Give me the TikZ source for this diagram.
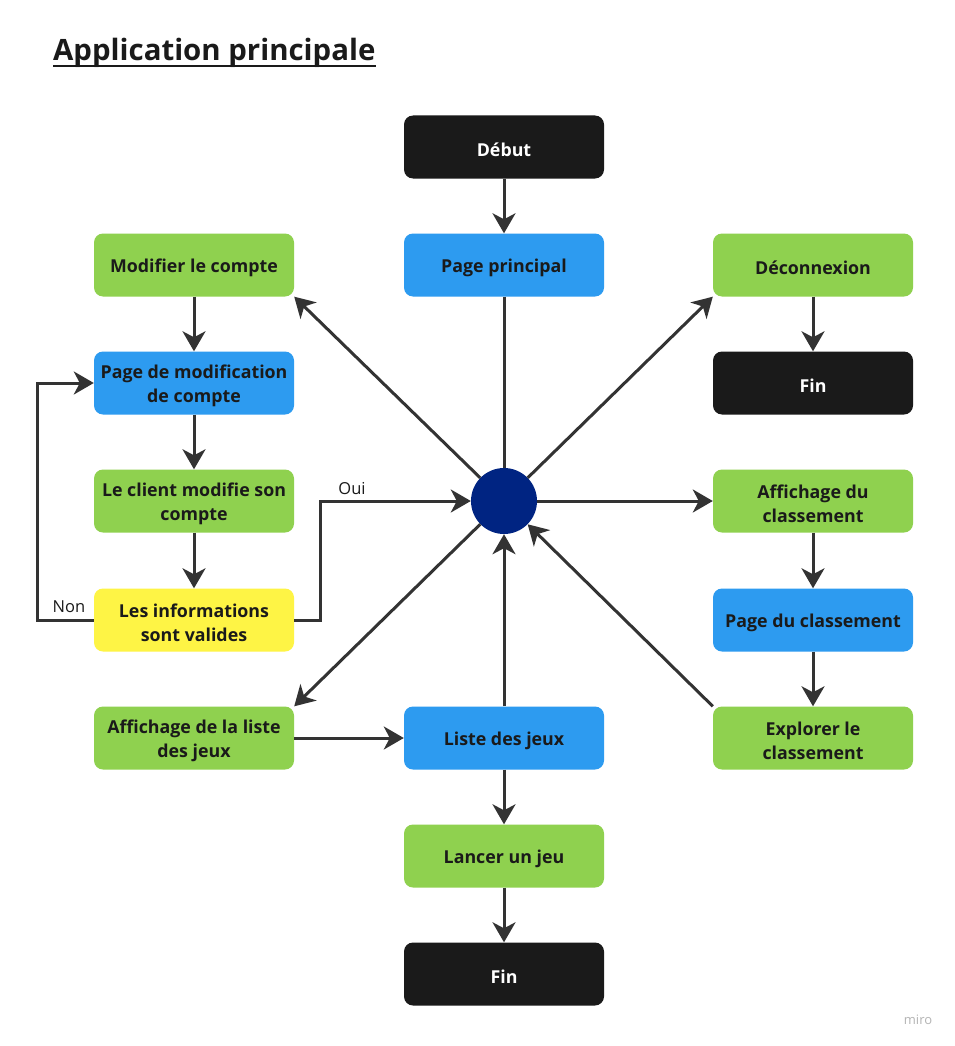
\documentclass[tikz,border=0pt]{standalone}
\usepackage{fontspec}
\setmainfont{Open Sans}
\usetikzlibrary{arrows.meta}
\definecolor{mgreen}{HTML}{8FD14F}
\definecolor{mblue}{HTML}{2D9BF0}
\definecolor{myellow}{HTML}{FEF445}
\definecolor{mblack}{HTML}{1A1A1A}
\definecolor{mnavy}{HTML}{002482}
\definecolor{mline}{HTML}{333333}
\definecolor{mtxt}{HTML}{1A1A1A}
\definecolor{mwater}{HTML}{B4B4B4}
\begin{document}
\begin{tikzpicture}[x=1pt,y=-1pt,
  box/.style={rectangle, rounded corners=9pt, minimum width=200pt, minimum height=63pt, inner sep=0pt},
  btxt/.style={align=center, inner sep=0pt, yshift=-2.5pt, text=mtxt, font=\bfseries\fontsize{17.8}{24}\selectfont},
  gbox/.style={box, fill=mgreen, label={[btxt]center:#1}},
  bbox/.style={box, fill=mblue, label={[btxt]center:#1}},
  ybox/.style={box, fill=myellow, label={[btxt]center:#1}},
  kbox/.style={box, fill=mblack, label={[btxt, text=white]center:#1}},
  conn/.style={draw=mline, line width=3pt, -{Stealth[length=20pt,width=23pt,inset=6pt]}},
  plain/.style={draw=mline, line width=3pt},
  lbl/.style={font=\fontsize{16.5}{18}\selectfont, text=mtxt, inner sep=0pt}]
\useasboundingbox (0,0) rectangle (955,1046);
\fill[white] (0,0) rectangle (955,1046);

% title
\node[anchor=base west, inner sep=0pt, text=mtxt, font=\bfseries\fontsize{29.4}{34}\selectfont] (title) at (53,61) {Application principale};
\draw[mtxt, line width=2.4pt] ([yshift=-5pt]title.base west) -- ([yshift=-5pt]title.base east);

% nodes
\node[kbox={Début}] (debut) at (504,147) {};
\node[bbox={Page principal}] (pp) at (504,265) {};
\node[gbox={Modifier le compte}] (mod) at (194,265) {};
\node[gbox={Déconnexion}] (deco) at (813,265) {};
\node[kbox={Fin}] (fin1) at (813,383) {};
\node[bbox={Page de modification\\de compte}] (pmod) at (194,383) {};
\node[gbox={Le client modifie son\\compte}] (cli) at (194,501) {};
\node[circle, fill=mnavy, minimum size=66pt, inner sep=0pt] (c) at (504,501) {};
\node[gbox={Affichage du\\classement}] (affc) at (813,501) {};
\node[ybox={Les informations\\sont valides}] (valid) at (194,620) {};
\node[bbox={Page du classement}] (pclass) at (813,620) {};
\node[gbox={Affichage de la liste\\des jeux}] (affl) at (194,738) {};
\node[bbox={Liste des jeux}] (liste) at (504,738) {};
\node[gbox={Explorer le\\classement}] (expl) at (813,738) {};
\node[gbox={Lancer un jeu}] (lancer) at (504,856) {};
\node[kbox={Fin}] (fin2) at (504,974) {};

% connectors
\draw[conn] (debut) -- (pp);
\draw[plain] (pp) -- (c);
\draw[conn] (c) -- (mod.south east);
\draw[conn] (c) -- (deco.south west);
\draw[conn] (deco) -- (fin1);
\draw[conn] (c) -- (affc);
\draw[conn] (affc) -- (pclass);
\draw[conn] (pclass) -- (expl);
\draw[conn] (expl.north west) -- (c);
\draw[conn] (liste) -- (c);
\draw[conn] (c) -- (affl.north east);
\draw[conn] (affl) -- (liste);
\draw[conn] (liste) -- (lancer);
\draw[conn] (lancer) -- (fin2);
\draw[conn] (mod) -- (pmod);
\draw[conn] (pmod) -- (cli);
\draw[conn] (cli) -- (valid);
\draw[conn] (valid.west) -- ++(-56,0) coordinate (nonc) |- (pmod.west);
\draw[conn] (valid.east) -- ++(26,0) coordinate (ouic) |- (c.west);

\node[lbl] (non) at (69,607) {Non};
\node[lbl] (oui) at (352,489) {Oui};
\node[font=\fontsize{13}{15}\selectfont, text=mwater, inner sep=0pt] (miro) at (918,1020) {miro};
\end{tikzpicture}
\end{document}
